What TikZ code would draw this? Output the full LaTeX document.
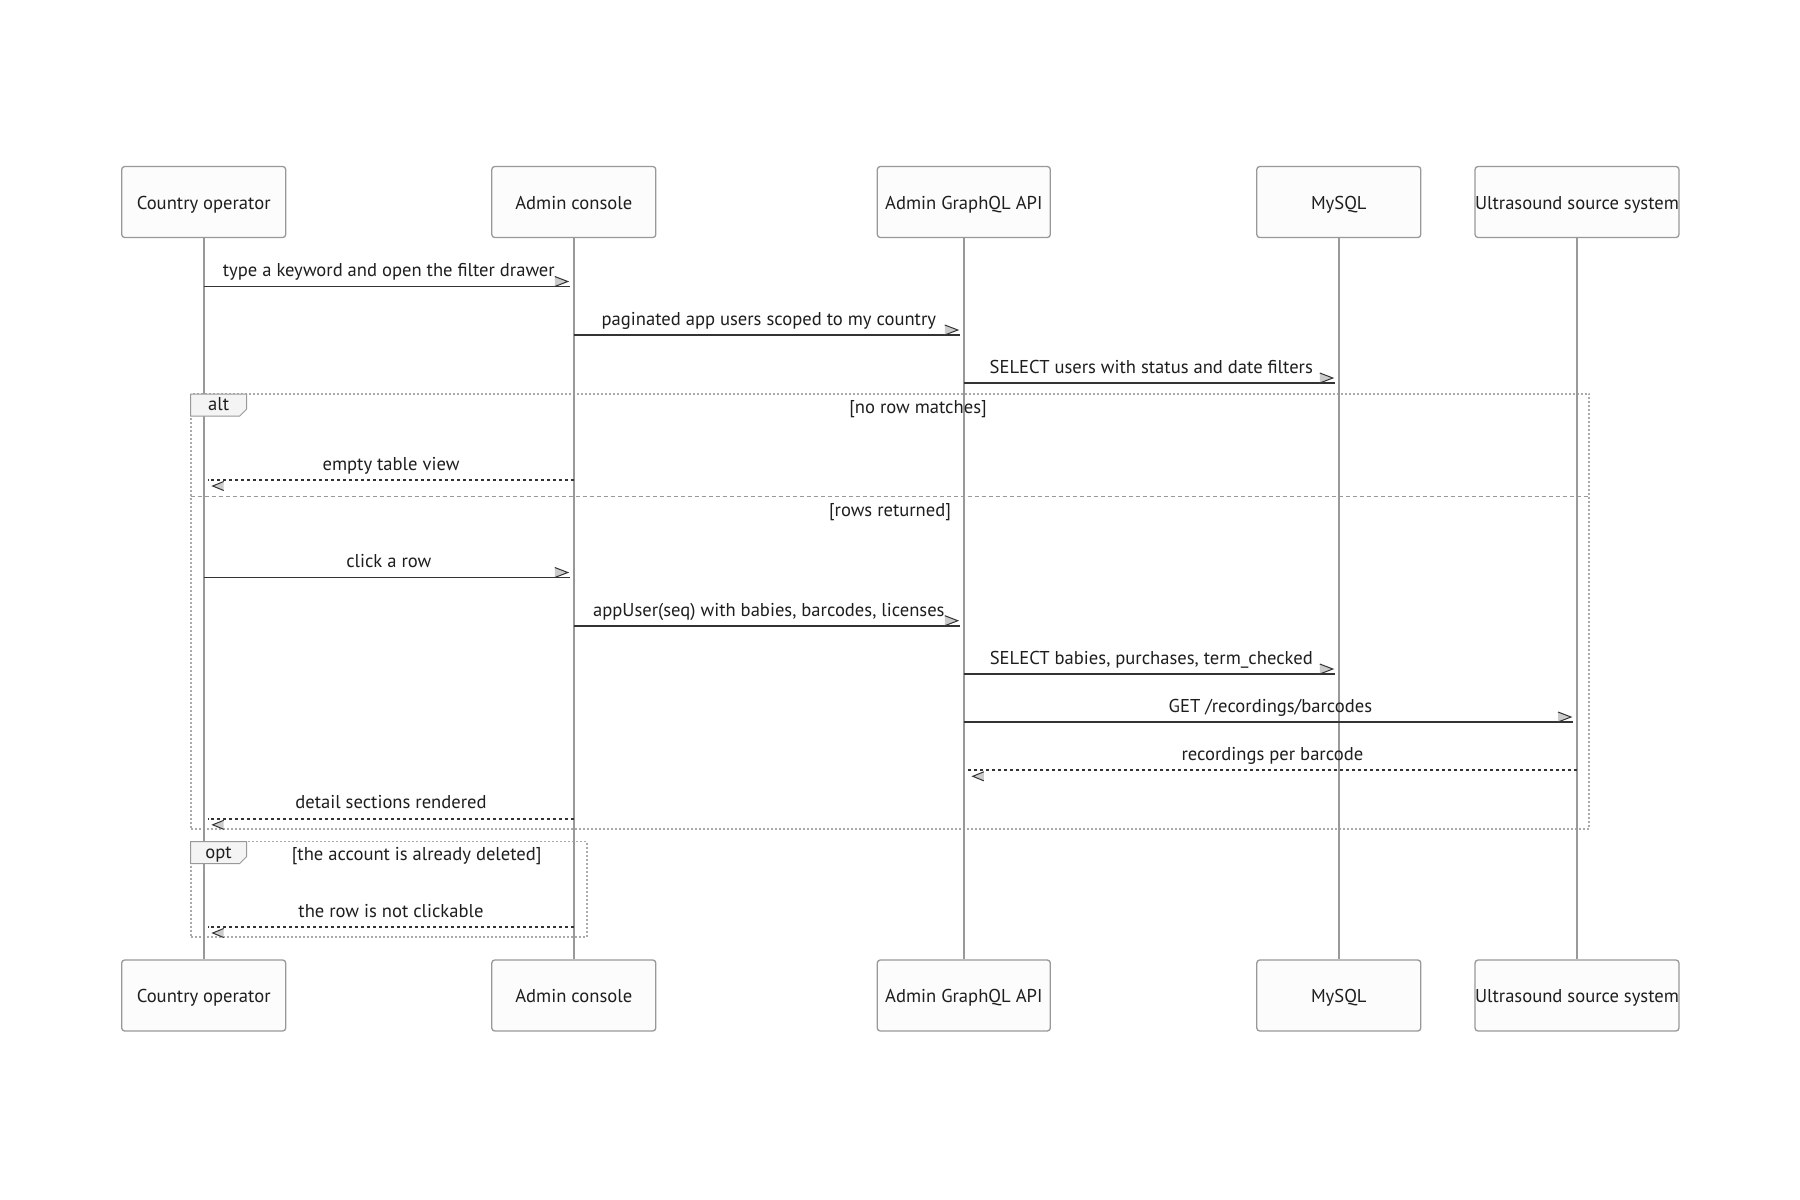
\documentclass[tikz,border=0pt]{standalone}
\usepackage{fontspec}
\setmainfont{PT Sans}
\usetikzlibrary{calc}
\definecolor{boxfill}{HTML}{FCFCFC}
\definecolor{boxline}{HTML}{999999}
\definecolor{lifec}{HTML}{999999}
\definecolor{msgc}{HTML}{333333}
\definecolor{txtc}{HTML}{1E1E1E}
\definecolor{headfill}{HTML}{CCCCCC}
\definecolor{framec}{HTML}{AAAAAA}
\definecolor{tabfill}{HTML}{F4F4F4}
\newcommand{\rahead}[2]{%
  \fill[headfill] ({#1-19},{#2-10}) -- ({#1-6},{#2-5}) -- ({#1-19},{#2}) -- cycle;
  \draw[msgc,line width=1pt] ({#1-19},{#2-10}) -- ({#1-6},{#2-5}) -- ({#1-19},{#2});}
\newcommand{\lahead}[2]{%
  \fill[headfill] ({#1+20},{#2+1.5}) -- ({#1+9},{#2+6}) -- ({#1+20},{#2+10.5}) -- cycle;
  \draw[msgc,line width=1pt] ({#1+20},{#2+1.5}) -- ({#1+9},{#2+6}) -- ({#1+20},{#2+10.5});}
\begin{document}
\begin{tikzpicture}[x=1pt,y=-1pt,
  font=\fontsize{18.6}{22}\selectfont,
  actor/.style={draw=boxline,fill=boxfill,line width=1.3pt,rounded corners=3pt,
    minimum height=71pt,text=txtc,inner sep=0pt,anchor=center,
    text height=16pt,text depth=2pt},
  lifeline/.style={draw=lifec,line width=2pt},
  msg/.style={draw=msgc,line width=1.9pt},
  reply/.style={draw=msgc,line width=1.9pt,dash pattern=on 3pt off 3pt},
  lbl/.style={text=txtc,inner sep=0pt,anchor=center,text height=13.5pt,text depth=4.5pt},
  frame/.style={draw=framec,line width=1.8pt,dash pattern=on 2pt off 2pt},
  divider/.style={draw=lifec,line width=1.6pt,dash pattern=on 4pt off 3pt},
  tab/.style={draw=boxline,fill=tabfill,line width=1pt}]
\useasboundingbox (0,0) rectangle (1800,1200);
\fill[white] (0,0) rectangle (1800,1200);

% frames (drawn first, behind lifelines)
\draw[frame] (190.6,394) rectangle (1589.3,829.3);
\draw[divider] (190.6,496.5) -- (1589.3,496.5);
\draw[frame] (190.6,841.5) rectangle (586.7,937.3);

% participants
\node[actor,minimum width=164pt] (co) at (203.7,202) {Country operator};
\node[actor,minimum width=164pt] (ac) at (573.8,202) {Admin console};
\node[actor,minimum width=173pt] (api) at (963.8,202) {Admin GraphQL API};
\node[actor,minimum width=164pt] (db) at (1338.8,202) {MySQL};
\node[actor,minimum width=203pt] (us) at (1577,202) {Ultrasound source system};
\node[actor,minimum width=164pt] (co2) at (203.7,995.5) {Country operator};
\node[actor,minimum width=164pt] (ac2) at (573.8,995.5) {Admin console};
\node[actor,minimum width=173pt] (api2) at (963.8,995.5) {Admin GraphQL API};
\node[actor,minimum width=164pt] (db2) at (1338.8,995.5) {MySQL};
\node[actor,minimum width=203pt] (us2) at (1577,995.5) {Ultrasound source system};

\foreach \a in {co,ac,api,db,us}{\draw[lifeline] (\a.south) -- (\a2.north);}

% frame tabs and labels
\draw[tab] (190.6,394) -- (246.7,394) -- (246.7,409) -- (239.7,416) -- (190.6,416) -- cycle;
\node[lbl] (altl) at (218.6,406) {alt};
\node[lbl] (altc1) at (918,408.5) {[no row matches]};
\node[lbl] (altc2) at (890,511.5) {[rows returned]};
\draw[tab] (190.6,841.5) -- (246.7,841.5) -- (246.7,856.5) -- (239.7,863.5) -- (190.6,863.5) -- cycle;
\node[lbl] (optl) at (218.6,853.5) {opt};
\node[lbl] (optc) at (416.7,855.5) {[the account is already deleted]};

% message rows
\coordinate (r1) at (0,286.5);
\coordinate (r2) at (0,335);
\coordinate (r3) at (0,383);
\coordinate (r4) at (0,480);
\coordinate (r5) at (0,577.5);
\coordinate (r6) at (0,625.7);
\coordinate (r7) at (0,674);
\coordinate (r8) at (0,722);
\coordinate (r9) at (0,770.3);
\coordinate (r10) at (0,818.8);
\coordinate (r11) at (0,927);

% 1
\draw[msg] (co |- r1) -- ([xshift=-4pt]ac |- r1);
\rahead{573.8}{286.5}
\node[lbl] (t1) at (388.8,272) {type a keyword and open the filter drawer};
% 2
\draw[msg] (ac |- r2) -- ([xshift=-4pt]api |- r2);
\rahead{963.8}{335}
\node[lbl] (t2) at (768.8,320.5) {paginated app users scoped to my country};
% 3
\draw[msg] (api |- r3) -- ([xshift=-4pt]db |- r3);
\rahead{1338.8}{383}
\node[lbl] (t3) at (1151.3,368.5) {SELECT users with status and date filters};
% 4
\draw[reply] (ac |- r4) -- ([xshift=4pt]co |- r4);
\lahead{203.7}{480}
\node[lbl] (t4) at (391,465.5) {empty table view};
% 5
\draw[msg] (co |- r5) -- ([xshift=-4pt]ac |- r5);
\rahead{573.8}{577.5}
\node[lbl] (t5) at (388.8,563) {click a row};
% 6
\draw[msg] (ac |- r6) -- ([xshift=-4pt]api |- r6);
\rahead{963.8}{625.7}
\node[lbl] (t6) at (768.8,611.5) {appUser(seq) with babies, barcodes, licenses};
% 7
\draw[msg] (api |- r7) -- ([xshift=-4pt]db |- r7);
\rahead{1338.8}{674}
\node[lbl] (t7) at (1151.3,660) {SELECT babies, purchases, term\_checked};
% 8
\draw[msg] (api |- r8) -- ([xshift=-4pt]us |- r8);
\rahead{1577}{722}
\node[lbl] (t8) at (1270.4,708) {GET /recordings/barcodes};
% 9
\draw[reply] (us |- r9) -- ([xshift=4pt]api |- r9);
\lahead{963.8}{770.3}
\node[lbl] (t9) at (1272.4,756) {recordings per barcode};
% 10
\draw[reply] (ac |- r10) -- ([xshift=4pt]co |- r10);
\lahead{203.7}{818.8}
\node[lbl] (t10) at (391,804) {detail sections rendered};
% 11
\draw[reply] (ac |- r11) -- ([xshift=4pt]co |- r11);
\lahead{203.7}{927}
\node[lbl] (t11) at (391,912.5) {the row is not clickable};
\end{tikzpicture}
\end{document}
